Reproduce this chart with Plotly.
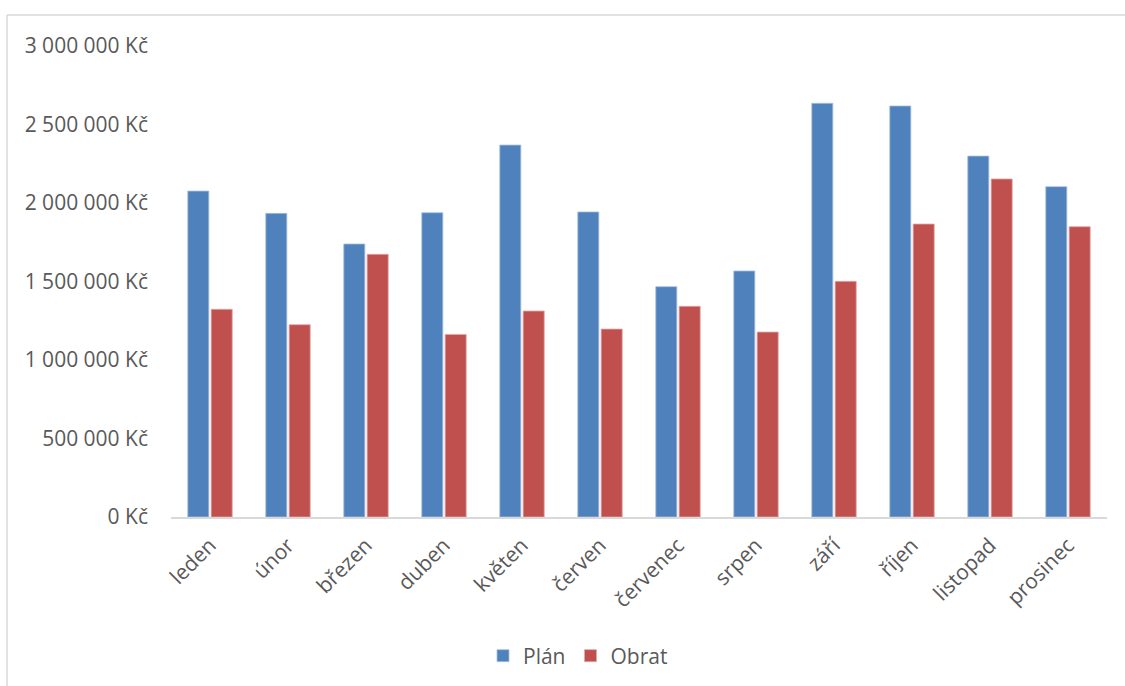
import plotly.graph_objects as go

categories = ["leden", "únor", "březen", "duben", "květen", "červen",
              "červenec", "srpen", "září", "říjen", "listopad", "prosinec"]
plan = [2076000, 1934000, 1739000, 1938000, 2369000, 1943000,
        1467000, 1567000, 2635000, 2618000, 2299000, 2104000]
obrat = [1323000, 1225000, 1673000, 1163000, 1312000, 1197000,
         1342000, 1178000, 1501000, 1866000, 2153000, 1849000]
y_tickvals = [0, 500000, 1000000, 1500000, 2000000, 2500000, 3000000]
y_ticktext = ["0 Kč", "500 000 Kč", "1 000 000 Kč", "1 500 000 Kč",
              "2 000 000 Kč", "2 500 000 Kč", "3 000 000 Kč"]

BLUE = "#4f81bd"
RED = "#c0504d"
TXT = "#595959"
FONT = "Open Sans"
FS = 21

fig = go.Figure()
fig.add_trace(go.Bar(x=categories, y=plan, name="Plán",
                     marker=dict(color=BLUE, line=dict(color="#a7c0e0", width=0.8))))
fig.add_trace(go.Bar(x=categories, y=obrat, name="Obrat",
                     marker=dict(color=RED, line=dict(color="#e0a7a6", width=0.8))))

L, R, T, B = 171, 18, 46, 169
W, H = 1125, 686
pw, ph = W - L - R, H - T - B

fig.update_layout(
    width=W, height=H,
    margin=dict(l=L, r=R, t=T, b=B, autoexpand=False),
    paper_bgcolor="white", plot_bgcolor="white",
    barmode="group", bargap=0.4, bargroupgap=0.1,
    font=dict(family=FONT, size=FS, color=TXT),
    showlegend=True,
    legend=dict(orientation="h", x=(578 - L) / pw, xanchor="center",
                y=(H - B - 656) / ph, yanchor="middle",
                font=dict(family=FONT, size=FS, color=TXT),
                itemwidth=30, tracegroupgap=0),
    xaxis=dict(showgrid=False, showline=True, linecolor="#d9d9d9", linewidth=1.5,
               ticks="", tickangle=-45, ticklabelstandoff=6,
               tickfont=dict(family=FONT, size=FS, color=TXT),
               zeroline=False),
    yaxis=dict(range=[0, 3000000], tickvals=y_tickvals, ticktext=y_ticktext,
               showgrid=False, showline=False, zeroline=False, ticks="",
               ticklabelstandoff=22,
               tickfont=dict(family=FONT, size=FS, color=TXT)),
    shapes=[
        dict(type="line", xref="paper", yref="paper",
             x0=(7 - L) / pw, x1=(7 - L) / pw,
             y0=(H - B - 15) / ph, y1=(H - B - 700) / ph,
             line=dict(color="#d9d9d9", width=1.5)),
        dict(type="line", xref="paper", yref="paper",
             x0=(7 - L) / pw, x1=(1130 - L) / pw,
             y0=(H - B - 15) / ph, y1=(H - B - 15) / ph,
             line=dict(color="#d9d9d9", width=1.5)),
    ],
)

fig.write_html("out.html")
